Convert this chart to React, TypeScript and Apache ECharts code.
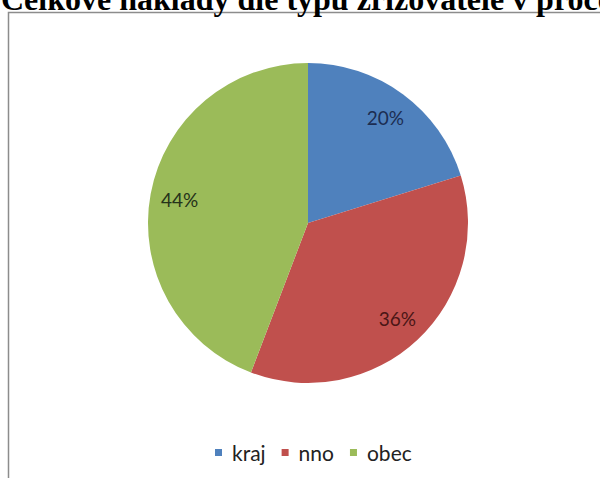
import React, { useEffect, useRef } from "react";
import * as echarts from "echarts";

const titleText = "Celkové náklady dle typu zřizovatele v procentech";
const categories = ["kraj", "nno", "obec"];
const values = [20.2, 35.6, 44.2];
const sliceColors = ["#4f81bd", "#c0504d", "#9bbb59"];
const labelColors = ["#1c2d52", "#4a1616", "#25321a"];

export default function App() {
  const ref = useRef<HTMLDivElement>(null);
  useEffect(() => {
    if (!ref.current) return;
    const chart = echarts.init(ref.current, null, { renderer: "svg" });
    const center = [308, 223];
    chart.setOption({
      animation: false,
      backgroundColor: "#ffffff",
      legend: {
        data: categories,
        left: 215,
        top: 442,
        padding: 0,
        itemGap: 16,
        itemWidth: 12,
        itemHeight: 7,
        icon: "path://M0,0H7V7H0Z M11.99,3.49H12V3.5H11.99Z",
        textStyle: { fontFamily: "Lato", fontSize: 21, color: "#222", lineHeight: 21 },
      },
      graphic: [
        {
          type: "rect",
          shape: { x: 8.5, y: 12.5, width: 700, height: 600 },
          style: { fill: "none", stroke: "#8c8c8c", lineWidth: 1.5 },
          silent: true,
        },
        {
          type: "text",
          x: 1,
          y: -1,
          style: {
            text: titleText,
            font: "bold 32px 'Liberation Serif'",
            fill: "#000",
            verticalAlign: "middle",
            align: "left",
          },
          silent: true,
        },
      ],
      series: [
        {
          type: "pie",
          center,
          radius: [0, 160],
          startAngle: 90,
          clockwise: true,
          percentPrecision: 0,
          label: { show: false },
          labelLine: { show: false },
          emphasis: { disabled: true },
          data: categories.map((name, i) => ({
            name,
            value: values[i],
            itemStyle: { color: sliceColors[i] },
          })),
        },
        {
          type: "pie",
          center,
          radius: [95, 160],
          startAngle: 90,
          clockwise: true,
          silent: true,
          percentPrecision: 0,
          legendHoverLink: false,
          emphasis: { disabled: true },
          itemStyle: { color: "rgba(0,0,0,0)" },
          label: {
            show: true,
            position: "inside",
            formatter: "{d}%",
            fontFamily: "Lato",
            fontSize: 19,
          },
          labelLine: { show: false },
          data: categories.map((name, i) => ({
            name,
            value: values[i],
            itemStyle: { color: "rgba(0,0,0,0)" },
            label: { color: labelColors[i] },
          })),
        },
      ],
    });
    return () => chart.dispose();
  }, []);
  return (
    <div
      ref={ref}
      style={{ position: "fixed", left: 0, top: 0, width: 600, height: 478 }}
    />
  );
}
